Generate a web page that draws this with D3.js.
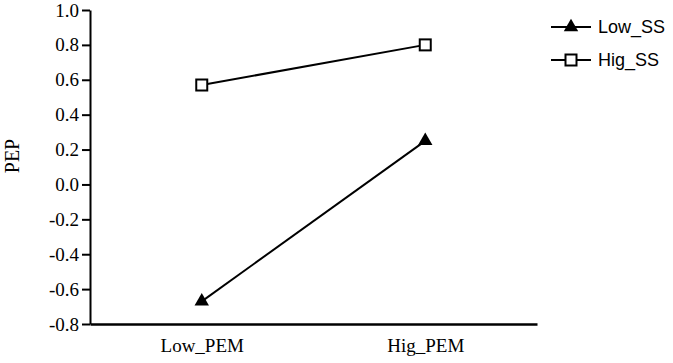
<!DOCTYPE html>
<html><head><meta charset="utf-8">
<script src="https://cdn.jsdelivr.net/npm/d3@7"></script>
<style>body{margin:0;background:#fff}svg{display:block}</style>
</head><body>
<svg id="c" width="673" height="363"></svg>
<script>
const categories = ["Low_PEM", "Hig_PEM"];
const lowSS = [-0.67, 0.25];
const higSS = [0.57, 0.80];
const seriesNames = ["Low_SS", "Hig_SS"];
const yTicks = [-0.8, -0.6, -0.4, -0.2, 0.0, 0.2, 0.4, 0.6, 0.8, 1.0];

const svg = d3.select("#c");
const x = d3.scalePoint().domain(categories).range([90, 537]).padding(0.5);
const y = d3.scaleLinear().domain([-0.8, 1.0]).range([324, 10]);

// y axis
const ya = svg.append("g").attr("transform", "translate(90,0)")
  .call(d3.axisLeft(y).tickValues(yTicks).tickFormat(d => d.toFixed(1)).tickSize(8).tickSizeOuter(0));
ya.attr("font-family", null).attr("font-size", null);
ya.select(".domain").attr("stroke", "#000").attr("stroke-width", 2);
ya.selectAll(".tick line").attr("stroke", "#000").attr("stroke-width", 2);
ya.selectAll(".tick text").attr("font-family", "Liberation Serif").attr("font-size", 19).attr("fill", "#000").attr("x", -11);

// x axis
const xa = svg.append("g").attr("transform", "translate(0,324)")
  .call(d3.axisBottom(x).tickSize(0).tickSizeOuter(0));
xa.attr("font-family", null).attr("font-size", null);
xa.select(".domain").attr("stroke", "#000").attr("stroke-width", 2.5);
xa.selectAll(".tick text").attr("font-family", "Liberation Serif").attr("font-size", 19).attr("fill", "#000").attr("dy", "1.3em");

// y label
svg.append("text").attr("transform", "translate(19,156) rotate(-90)")
  .attr("text-anchor", "middle").attr("font-family", "Liberation Serif").attr("font-size", 20).attr("fill", "#000").text("PEP");

const line = d3.line().x((d, i) => x(categories[i])).y(d => y(d));
const tri = d3.symbol().type(d3.symbolTriangle).size(90);

svg.append("path").datum(lowSS).attr("d", line).attr("fill", "none").attr("stroke", "#000").attr("stroke-width", 2);
svg.append("path").datum(higSS).attr("d", line).attr("fill", "none").attr("stroke", "#000").attr("stroke-width", 2);

svg.selectAll(".tri").data(lowSS).join("path").attr("class", "tri")
  .attr("d", tri).attr("transform", (d, i) => `translate(${x(categories[i])},${y(d)})`).attr("fill", "#000");
svg.selectAll(".sq").data(higSS).join("rect").attr("class", "sq")
  .attr("x", (d, i) => x(categories[i]) - 5.5).attr("y", d => y(d) - 5.5)
  .attr("width", 11).attr("height", 11).attr("fill", "#fff").attr("stroke", "#000").attr("stroke-width", 2);

// legend
const leg = svg.append("g");
const ly = [27, 60];
seriesNames.forEach((n, i) => {
  leg.append("line").attr("x1", 551).attr("x2", 591).attr("y1", ly[i]).attr("y2", ly[i]).attr("stroke", "#000").attr("stroke-width", 2);
  if (i === 0) {
    leg.append("path").attr("d", tri).attr("transform", `translate(571,${ly[i]})`).attr("fill", "#000");
  } else {
    leg.append("rect").attr("x", 565.5).attr("y", ly[i] - 5.5).attr("width", 11).attr("height", 11).attr("fill", "#fff").attr("stroke", "#000").attr("stroke-width", 2);
  }
  leg.append("text").attr("x", 598).attr("y", ly[i]).attr("dy", "0.35em").attr("font-family", "Liberation Sans").attr("font-size", 18).attr("fill", "#000").text(n);
});
</script>
</body></html>
